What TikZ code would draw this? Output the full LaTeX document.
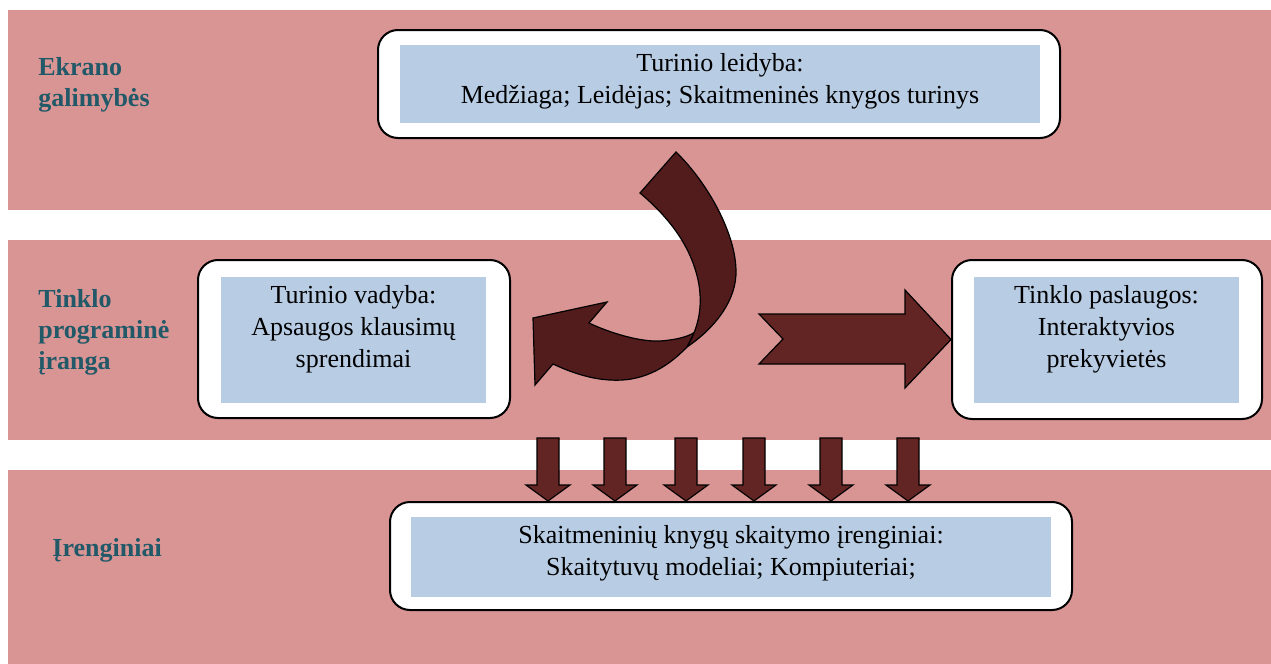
\documentclass[tikz,border=0pt]{standalone}
\usepackage{fontspec}
\setmainfont{Liberation Serif}
\usetikzlibrary{positioning}
\definecolor{bandpink}{HTML}{D99594}
\definecolor{boxblue}{HTML}{B8CCE4}
\definecolor{arrowred}{HTML}{632523}
\definecolor{curvered}{HTML}{521C1C}
\definecolor{labelteal}{HTML}{215968}
\tikzset{
  band/.style={fill=bandpink,draw=none},
  outerbox/.style={draw,line width=1pt,fill=white,rounded corners=10pt,inner sep=0pt},
  bluebox/.style={fill=boxblue,inner sep=0pt},
  boxtext/.style={align=center,inner sep=0pt,font=\fontsize{13}{16}\selectfont},
  levellabel/.style={align=left,inner sep=0pt,text=labelteal,font=\fontsize{13}{15.5}\selectfont\bfseries},
  blockarrow/.style={draw,line width=0.6pt,fill=arrowred,line join=miter}
}
\begin{document}
\begin{tikzpicture}[x=0.5pt,y=-0.5pt]
		\useasboundingbox (0,0) rectangle (1271,664);
		\fill[white] (0,0) rectangle (1271,664);
		% three levels
		\draw[band] (8,10) rectangle (1271,210);
		\draw[band] (8,240) rectangle (1271,440);
		\draw[band] (8,470) rectangle (1271,664);
		\node[levellabel,anchor=north west] (screen) at (38,57) {Ekrano\\galimybės};
		\node[levellabel,anchor=north west] (software) at (38,289) {Tinklo\\programinė\\įranga};
		\node[levellabel,anchor=base west] (devices) at (52,556) {Įrenginiai};
		% down arrows
		\foreach \x in {548,615,686,754,831,908}
			\draw[blockarrow] (\x-11,438) -- (\x+11,438) -- (\x+11,485) -- (\x+22,485) -- (\x,501) -- (\x-22,485) -- (\x-11,485) -- cycle;
		% boxes
		\node[outerbox,minimum width=341pt,minimum height=54pt] (pubout) at (719,84) {};
		\node[bluebox,minimum width=320pt,minimum height=39pt] (pub) at (720,84) {};
		\node[boxtext,below=4pt of pub.north] (pubtext) {Turinio leidyba:\\Medžiaga; Leidėjas; Skaitmeninės knygos turinys};
		\node[outerbox,minimum width=156pt,minimum height=79pt] (mgmtout) at (354,339) {};
		\node[bluebox,minimum width=132.5pt,minimum height=63pt] (mgmt) at (353.5,340) {};
		\node[boxtext,below=4pt of mgmt.north] (mgmttext) {Turinio vadyba:\\Apsaugos klausimų\\sprendimai};
		\node[outerbox,minimum width=155pt,minimum height=79.5pt] (servout) at (1107,339.5) {};
		\node[bluebox,minimum width=132.5pt,minimum height=63pt] (serv) at (1106.5,340) {};
		\node[boxtext,below=4pt of serv.north] (servtext) {Tinklo paslaugos:\\Interaktyvios\\prekyvietės};
		\node[outerbox,minimum width=341pt,minimum height=54pt] (readout) at (731,556) {};
		\node[bluebox,minimum width=320pt,minimum height=40pt] (read) at (731,557) {};
		\node[boxtext,below=4pt of read.north] (readtext) {Skaitmeninių knygų skaitymo įrenginiai:\\Skaitytuvų modeliai; Kompiuteriai;};
		% right arrow
		\draw[blockarrow] (759,314) -- (905,314) -- (905,290) -- (servout.west) -- (905,388) -- (905,364) -- (759,364) -- (783,339) -- cycle;
		% curved arrow
		\draw[blockarrow,fill=curvered] (687,347) .. controls (665,370) and (640,382) .. (610,380) .. controls (590,379) and (570,372) .. (553,364) -- (535,385) -- (533,318) -- (607,302) -- (589,323) .. controls (610,333) and (640,342) .. (660,341) .. controls (675,340) and (688,337) .. (695,332) -- cycle;
		\draw[blockarrow,fill=curvered] (676,152) .. controls (705,180) and (735,230) .. (736,270) .. controls (737,300) and (715,328) .. (687,347) .. controls (700,325) and (702,305) .. (699,285) .. controls (693,250) and (672,220) .. (640,193) -- cycle;
		\end{tikzpicture}
\end{document}
